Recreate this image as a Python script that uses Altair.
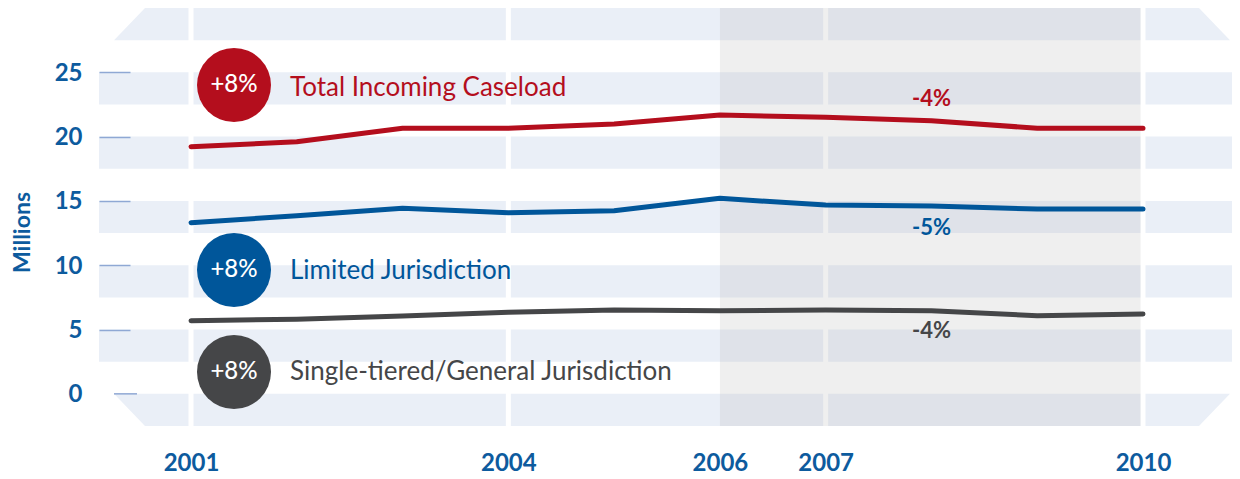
import altair as alt
import pandas as pd

# ---- data ----
years = list(range(2001, 2011))
total = [19.22, 19.60, 20.65, 20.65, 20.98, 21.68, 21.50, 21.24, 20.65, 20.65]
limited = [13.31, 13.85, 14.43, 14.08, 14.24, 15.20, 14.68, 14.60, 14.37, 14.37]
single = [5.69, 5.80, 6.05, 6.34, 6.52, 6.46, 6.52, 6.46, 6.08, 6.21]

series_names = ["Total Incoming Caseload", "Limited Jurisdiction",
                "Single-tiered/General Jurisdiction"]
series_values = [total, limited, single]
series_colors = ["#b40e1d", "#00569a", "#454648"]

change_early = ["+8%", "+8%", "+8%"]
change_late = ["-4%", "-5%", "-4%"]

x_ticks = [2001, 2004, 2006, 2007, 2010]
y_ticks = [0, 5, 10, 15, 20, 25]
gap_years = [2001, 2004, 2007, 2010]
period_start, period_end = 2006, 2010

# ---- annotation placement (data units) ----
badge_x = 2001.4065
name_x = 2001.936
late_x = 2008
badge_y = [24.01, 9.63, 1.70]
name_y = [23.16, 8.93, 1.08]
late_y = [22.89, 12.93, 4.85]

# ---- decorative band geometry (data units) ----
band_tops = [25, 20, 15, 10, 5]
band_h = 2.5
band_left, band_right = 2000.1303, 2010.95
end_x = [2000.2721, 2000.5651, 2010.5294, 2010.8225]
y_min, y_max = -2.5, 30

BAND = "#eaeff7"
TXT_BLUE = "#0d5b9e"
TICK = "#8fa8d4"
FONT = "Lato"

xs = alt.Scale(domain=[2000.4233, 2010.8414], nice=False, zero=False)
ys = alt.Scale(domain=[y_min, y_max], nice=False, zero=False)

x_axis = alt.Axis(values=x_ticks, format="d", labelFont=FONT, labelFontSize=24,
                  labelFontWeight="bold", labelColor=TXT_BLUE, ticks=False, tickSize=0,
                  domain=False, grid=False, labelPadding=25, title=None,
                  labelFlush=False, labelOverlap=False)
y_axis = alt.Axis(values=y_ticks, format="d", labelFont=FONT, labelFontSize=24,
                  labelFontWeight="bold", labelColor=TXT_BLUE, tickSize=31, tickWidth=1.5,
                  tickColor={"condition": {"test": "datum.value === 0", "value": "transparent"},
                             "value": TICK},
                  domain=False, grid=False, labelPadding=17, labelOffset=1,
                  title="Millions", titleFont=FONT, titleFontSize=23, titleFontWeight="bold",
                  titleColor=TXT_BLUE, titleAngle=270, titleX=-108, titleY=224,
                  titleAlign="center", titleBaseline="middle", zindex=1)


def X(field):
    return alt.X(field, type="quantitative", scale=xs, axis=x_axis)


def Y(field, **kw):
    return alt.Y(field, type="quantitative", scale=ys, axis=y_axis, **kw)


# middle bands
bands_df = pd.DataFrame({"hi": band_tops, "lo": [v - band_h for v in band_tops],
                         "x0": band_left, "x1": band_right})
bands = alt.Chart(bands_df).mark_rect(color=BAND).encode(
    x=X("x0"), x2="x1:Q", y=Y("hi"), y2="lo:Q")

# end (chevron) bands
ends_rows = []
top_hi = [y_max - band_h, y_max, y_max, y_max - band_h]
for xv, hv in zip(end_x, top_hi):
    ends_rows.append({"band": "top", "x": xv, "a": hv, "b": y_max - band_h})
bot_lo = [0, y_min, y_min, 0]
for xv, lv in zip(end_x, bot_lo):
    ends_rows.append({"band": "bottom", "x": xv, "a": 0, "b": lv})
ends = alt.Chart(pd.DataFrame(ends_rows)).mark_area(color=BAND, orient="vertical",
                                                    interpolate="linear").encode(
    x=X("x"), y=Y("a", stack=None), y2="b:Q", detail="band:N")

# white vertical gaps
gaps = alt.Chart(pd.DataFrame({"year": gap_years, "lo": y_min, "hi": y_max})).mark_rule(
    color="white", strokeWidth=5).encode(x=X("year"), y=Y("lo"), y2="hi:Q")

# shaded period
shade = alt.Chart(pd.DataFrame({"s": [period_start], "e": [period_end - 0.023],
                                "lo": [y_min], "hi": [y_max]})).mark_rect(
    color="#b9b9b9", opacity=0.23).encode(x=X("s"), x2="e:Q", y=Y("lo"), y2="hi:Q")

# zero tick
zero_tick = alt.Chart(pd.DataFrame({"a": [2000.2721], "b": [2000.4895], "v": [0]})).mark_rule(
    color=TICK, strokeWidth=1.5).encode(x=X("a"), x2="b:Q", y=Y("v"))

color_scale = alt.Scale(domain=series_names, range=series_colors)

rows = []
for name, vals in zip(series_names, series_values):
    for yv, v in zip(years, vals):
        rows.append({"year": yv, "value": v, "series": name})
lines = alt.Chart(pd.DataFrame(rows)).mark_line(strokeWidth=5, strokeCap="round",
                                                strokeJoin="round").encode(
    x=X("year"), y=Y("value"),
    color=alt.Color("series:N", scale=color_scale, legend=None),
    detail="series:N")

ann_df = pd.DataFrame({"series": series_names, "early": change_early, "late": change_late,
                       "by": badge_y, "ny": name_y, "ly": late_y,
                       "bx": badge_x, "nx": name_x, "lx": late_x})

badges = alt.Chart(ann_df).mark_circle(size=5476, opacity=1).encode(
    x=X("bx"), y=Y("by"),
    color=alt.Color("series:N", scale=color_scale, legend=None))

badge_txt = alt.Chart(ann_df).mark_text(font=FONT, fontSize=24, fontWeight=500,
                                        color="white", align="center",
                                        baseline="middle").encode(
    x=X("bx"), y=Y("by"), text="early:N")

name_txt = alt.Chart(ann_df).mark_text(font=FONT, fontSize=26, align="left",
                                       baseline="alphabetic").encode(
    x=X("nx"), y=Y("ny"), text="series:N",
    color=alt.Color("series:N", scale=color_scale, legend=None))

late_txt = alt.Chart(ann_df).mark_text(font=FONT, fontSize=22, fontWeight="bold",
                                       align="center", baseline="middle").encode(
    x=X("lx"), y=Y("ly"), text="late:N",
    color=alt.Color("series:N", scale=color_scale, legend=None))

chart = alt.layer(bands, ends, gaps, shade, zero_tick, lines, badges, badge_txt,
                  name_txt, late_txt).properties(
    width=1102, height=418,
    autosize=alt.AutoSizeParams(type="none"),
    padding={"left": 122, "top": 0, "right": 0, "bottom": 45},
    background="white",
).configure_view(strokeWidth=0)

chart.save("out.html", embed_options={"renderer": "svg", "actions": False})
